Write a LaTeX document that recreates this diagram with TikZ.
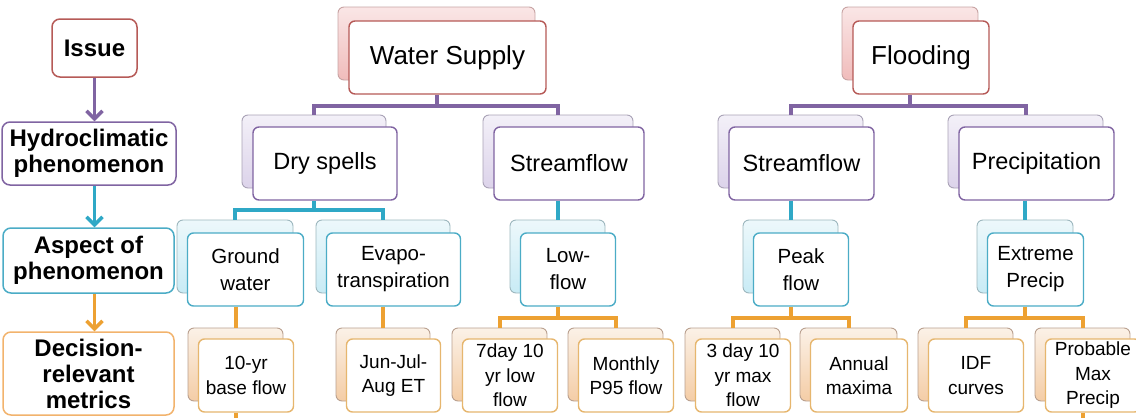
\documentclass[tikz,border=0pt]{standalone}
\usepackage{fontspec}
\setmainfont{Liberation Sans}
\usetikzlibrary{arrows.meta,calc}
\definecolor{issuered}{HTML}{B65A57}
\definecolor{pinktop}{HTML}{FAE6E6}
\definecolor{pinkbot}{HTML}{F0BCBB}
\definecolor{pinkedge}{HTML}{C7A3A3}
\definecolor{phenpurple}{HTML}{8064A2}
\definecolor{lavtop}{HTML}{F3F0F8}
\definecolor{lavbot}{HTML}{DCD3EA}
\definecolor{lavedge}{HTML}{A9A2B6}
\definecolor{aspteal}{HTML}{4BACC6}
\definecolor{linkteal}{HTML}{2FA8C6}
\definecolor{cyantop}{HTML}{EDF8FB}
\definecolor{cyanbot}{HTML}{C8EBF5}
\definecolor{cyanedge}{HTML}{9DB7BE}
\definecolor{metgold}{HTML}{E6B66E}
\definecolor{linkorange}{HTML}{EDA132}
\definecolor{decorange}{HTML}{F2B36D}
\definecolor{peachtop}{HTML}{FBF1E7}
\definecolor{peachbot}{HTML}{F4CDA6}
\definecolor{peachedge}{HTML}{B9A08F}
\tikzset{back/.style={rounded corners=6pt,line width=0.9pt,inner sep=0pt,minimum height=73pt},
 front/.style={rounded corners=6pt,fill=white,line width=1.4pt,align=center,inner sep=1pt,minimum height=73pt},
 backA/.style={back,draw=pinkedge,top color=pinktop,bottom color=pinkbot},
 frontA/.style={front,draw=issuered,font=\fontsize{26}{30}\selectfont},
 backB/.style={back,draw=lavedge,top color=lavtop,bottom color=lavbot},
 frontB/.style={front,draw=phenpurple,font=\fontsize{23.5}{28}\selectfont},
 backC/.style={back,draw=cyanedge,top color=cyantop,bottom color=cyanbot},
 frontC/.style={front,draw=aspteal,font=\fontsize{20.5}{27}\selectfont},
 backD/.style={back,draw=peachedge,top color=peachtop,bottom color=peachbot},
 frontD/.style={front,draw=metgold,font=\fontsize{19}{24.5}\selectfont},
 lbox/.style={rounded corners=8pt,fill=white,line width=1.5pt,align=center,inner sep=1pt,
 font=\bfseries\fontsize{24}{26}\selectfont},
 linkA/.style={draw=phenpurple,line width=4pt},
 linkB/.style={draw=linkteal,line width=4pt},
 linkC/.style={draw=linkorange,line width=4pt},
 levarrow/.style={-{Straight Barb[length=8pt,width=16pt]},line width=3.5pt}}

\begin{document}
\begin{tikzpicture}[x=1pt,y=-1pt]
\useasboundingbox (0,0) rectangle (1136,418);
% left legend column
\node[lbox,draw=issuered,minimum width=85pt,minimum height=58pt] (issue) at (94.5,48) {Issue};
\node[lbox,draw=phenpurple,minimum width=174pt,minimum height=63pt] (hydro) at (89,153.5) {Hydroclimatic\\phenomenon};
\node[lbox,draw=aspteal,minimum width=171pt,minimum height=65pt] (aspect) at (88.5,260.5) {Aspect of\\phenomenon};
\node[lbox,draw=decorange,minimum width=171pt,minimum height=83pt] (decision) at (88.5,373.5) {Decision-\\relevant\\metrics};
\draw[levarrow,draw=phenpurple] (issue.south) -- (hydro.north -| issue.south);
\draw[levarrow,draw=linkteal] (hydro.south -| issue.south) -- (aspect.north -| issue.south);
\draw[levarrow,draw=linkorange] (aspect.south -| issue.south) -- (decision.north -| issue.south);
% issues
\node[backA,minimum width=197pt] (ws-b) at (436.5,43.5) {};
\node[frontA,minimum width=197pt] (ws) at (447.5,57.5) {Water Supply};
\node[backA,minimum width=136pt] (fl-b) at (910,43.5) {};
\node[frontA,minimum width=136pt] (fl) at (921,57.5) {Flooding};
% phenomena
\node[backB,minimum width=144pt] (dry-b) at (314,151.5) {};
\node[frontB,minimum width=144pt] (dry) at (325,163.5) {Dry spells};
\node[backB,minimum width=150pt] (sfw-b) at (558,151.5) {};
\node[frontB,minimum width=150pt] (sfw) at (569,163.5) {Streamflow};
\node[backB,minimum width=145pt] (sff-b) at (790.5,151.5) {};
\node[frontB,minimum width=145pt] (sff) at (801.5,163.5) {Streamflow};
\node[backB,minimum width=155pt] (pre-b) at (1025.5,151.5) {};
\node[frontB,minimum width=155pt] (pre) at (1036.5,163.5) {Precipitation};
% aspects
\node[backC,minimum width=116pt] (gw-b) at (235,256.5) {};
\node[frontC,minimum width=116pt] (gw) at (245.5,269.5) {Ground\\water};
\node[backC,minimum width=134pt] (et-b) at (383,256.5) {};
\node[frontC,minimum width=134pt] (et) at (393.5,269.5) {Evapo-\\transpiration};
\node[backC,minimum width=95pt] (low-b) at (557.5,256.5) {};
\node[frontC,minimum width=95pt] (low) at (568,269.5) {Low-\\flow};
\node[backC,minimum width=95pt] (peak-b) at (790.5,256.5) {};
\node[frontC,minimum width=95pt] (peak) at (801,269.5) {Peak\\flow};
\node[backC,minimum width=96pt] (ext-b) at (1025,256.5) {};
\node[frontC,minimum width=96pt] (ext) at (1035.5,269.5) {Extreme\\Precip};
% metrics
\node[backD,minimum width=95pt] (ten-b) at (235.5,364.5) {};
\node[frontD,minimum width=95pt] (ten) at (246,375.5) {10-yr\\base flow};
\node[backD,minimum width=94pt] (jun-b) at (383,364.5) {};
\node[frontD,minimum width=94pt] (jun) at (393.5,375.5) {Jun-Jul-\\Aug ET};
\node[backD,minimum width=95pt] (sev-b) at (499.5,364.5) {};
\node[frontD,minimum width=95pt] (sev) at (510,375.5) {7day 10\\yr low\\flow};
\node[backD,minimum width=95pt] (mon-b) at (615.5,364.5) {};
\node[frontD,minimum width=95pt] (mon) at (626,375.5) {Monthly\\P95 flow};
\node[backD,minimum width=95pt] (three-b) at (732.5,364.5) {};
\node[frontD,minimum width=95pt] (three) at (743,375.5) {3 day 10\\yr max\\flow};
\node[backD,minimum width=97pt] (ann-b) at (848.5,364.5) {};
\node[frontD,minimum width=97pt] (ann) at (859,375.5) {Annual\\maxima};
\node[backD,minimum width=95pt] (idf-b) at (965.5,364.5) {};
\node[frontD,minimum width=95pt] (idf) at (976,375.5) {IDF\\curves};
\node[backD,minimum width=95pt] (pmp-b) at (1082.5,364.5) {};
\node[frontD,minimum width=95pt] (pmp) at (1093,375.5) {Probable\\Max\\Precip};
% connectors
\draw[linkA] (ws.south -| ws-b) -- ++(0,11) coordinate (ws-j) -| (dry-b.north);
\draw[linkA] (ws-j) -| (sfw-b.north);
\draw[linkA] (fl.south -| fl-b) -- ++(0,11) coordinate (fl-j) -| (sff-b.north);
\draw[linkA] (fl-j) -| (pre-b.north);
\draw[linkB] (dry.south -| dry-b) -- ++(0,9) coordinate (dry-j) -| (gw-b.north);
\draw[linkB] (dry-j) -| (et-b.north);
\draw[linkB] (sfw.south -| low-b) -- (low-b.north);
\draw[linkB] (sff.south -| peak-b) -- (peak-b.north);
\draw[linkB] (pre.south -| ext-b) -- (ext-b.north);
\draw[linkC] (gw.south -| ten-b) -- (ten-b.north);
\draw[linkC] (et.south -| jun-b) -- (jun-b.north);
\draw[linkC] (low.south -| low-b) -- ++(0,11) coordinate (low-j) -| (sev-b.north);
\draw[linkC] (low-j) -| (mon-b.north);
\draw[linkC] (peak.south -| peak-b) -- ++(0,11) coordinate (peak-j) -| (three-b.north);
\draw[linkC] (peak-j) -| (ann-b.north);
\draw[linkC] (ext.south -| ext-b) -- ++(0,11) coordinate (ext-j) -| (idf-b.north);
\draw[linkC] (ext-j) -| (pmp-b.north);
% stubs running off the bottom edge
\coordinate (ten-end) at (235.5,418);
\coordinate (pmp-end) at (1082.5,418);
\draw[linkC] (ten.south -| ten-b) -- (ten-end);
\draw[linkC] (pmp.south -| pmp-b) -- (pmp-end);
\end{tikzpicture}
\end{document}
